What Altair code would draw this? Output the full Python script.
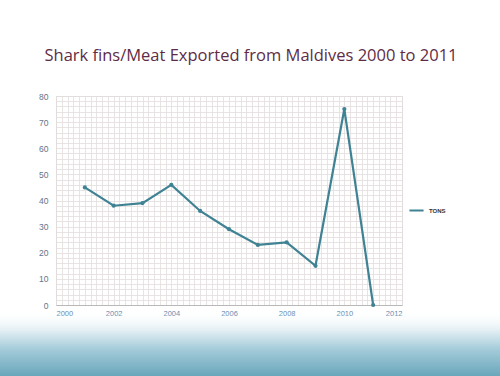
import altair as alt
import pandas as pd

years = [2001, 2002, 2003, 2004, 2005, 2006, 2007, 2008, 2009, 2010, 2011]
tons = [45, 38, 39, 46, 36, 29, 23, 24, 15, 75, 0]
series = ["TONS"] * len(years)
x_major = [2000, 2002, 2004, 2006, 2008, 2010, 2012]
y_major = [0, 10, 20, 30, 40, 50, 60, 70, 80]
x_minor = [round(2000 + i * 0.2, 1) for i in range(61)]
y_minor = list(range(0, 81, 2))

df = pd.DataFrame({"year": years, "tons": tons, "series": series})

W, H = 346, 209
xscale = alt.Scale(domain=[2000, 2012], nice=False, zero=False)
yscale = alt.Scale(domain=[0, 80], nice=False)

bg = alt.Chart(pd.DataFrame({"a": [0]})).mark_rect(
    clip=False,
    fill=alt.LinearGradient(
        gradient="linear", x1=0, x2=0, y1=0, y2=1,
        stops=[
            alt.GradientStop(offset=0, color="rgba(255,255,255,0)"),
            alt.GradientStop(offset=0.3, color="#e4f0f4"),
            alt.GradientStop(offset=0.6, color="#a3cbd9"),
            alt.GradientStop(offset=1, color="#6aa6bb"),
        ],
    ),
).encode(x=alt.value(-56), x2=alt.value(444), y=alt.value(214), y2=alt.value(280))

minor = alt.Chart(df).mark_point(opacity=0).encode(
    x=alt.X("year:Q", scale=xscale,
            axis=alt.Axis(orient="top", values=x_minor, labels=False, ticks=False, domain=False,
                          title=None, gridColor="#e3dddd", gridWidth=0.8)),
    y=alt.Y("tons:Q", scale=yscale,
            axis=alt.Axis(orient="right", values=y_minor, labels=False, ticks=False, domain=False,
                          title=None, gridColor="#e3dddd", gridWidth=0.8)),
)

line = alt.Chart(df).mark_line(
    strokeWidth=2.2,
    point=alt.OverlayMarkDef(filled=True, size=18, color="#2f5f6b"),
).encode(
    x=alt.X("year:Q", scale=xscale,
            axis=alt.Axis(orient="bottom", values=x_major, format="d", title=None, ticks=False,
                          labelFontSize=7.5, labelColor="#4a78a8", labelPadding=4,
                          gridColor="#c8c8c8", gridWidth=1, domainColor="#b8b8b8")),
    y=alt.Y("tons:Q", scale=yscale,
            axis=alt.Axis(orient="left", values=y_major, title=None, ticks=False,
                          labelFontSize=8.5, labelColor="#62748c", labelPadding=8,
                          gridColor="#c8c8c8", gridWidth=1, domain=False)),
    color=alt.Color("series:N", scale=alt.Scale(range=["#3f8294"]),
                    legend=alt.Legend(title=None, orient="none", legendX=352, legendY=106,
                                      symbolType="stroke", symbolSize=200, symbolStrokeWidth=2,
                                      labelFontSize=6, labelFontWeight="bold",
                                      labelColor="#333333")),
)

chart = alt.layer(bg, minor, line).resolve_axis(x="independent", y="independent").properties(
    width=W, height=H,
    autosize=alt.AutoSizeParams(type="none"),
    padding={"left": 56, "top": 96, "right": 98, "bottom": 71},
    title=alt.TitleParams(
        "Shark fins/Meat Exported from Maldives 2000 to 2011",
        fontSize=16.5, font="Open Sans", fontWeight="normal", color="#5e2c46",
        anchor="middle", dx=22, offset=28,
    ),
).configure_view(stroke=None).configure(background="white")

chart.save("out.html", embed_options={"renderer": "svg", "actions": False})
